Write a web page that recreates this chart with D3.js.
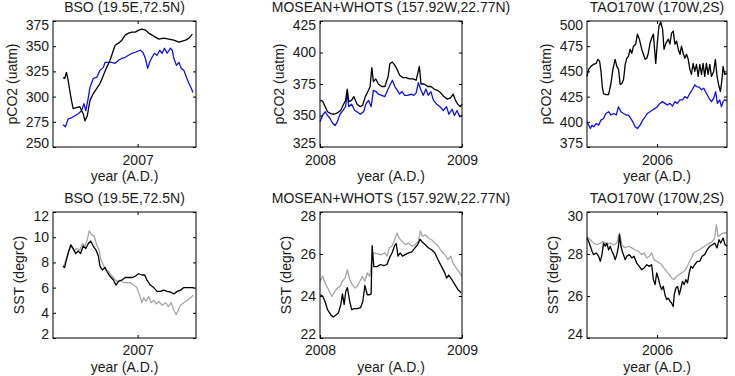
<!DOCTYPE html>
<html>
<head>
<meta charset="utf-8">
<script src="https://cdn.jsdelivr.net/npm/d3@7"></script>
<style>
  body { margin: 0; background: #fff; }
  svg { display: block; font-family: "Liberation Sans", Arial, sans-serif; }
</style>
</head>
<body>
<div id="chart"></div>
<script>
// ---- BSO (19.5E,72.5N) ----
const bsoPco2BlackT = [2006.489,2006.500,2006.512,2006.524,2006.535,2006.547,2006.558,2006.581,2006.604,2006.616,2006.627,2006.639,2006.655,2006.673,2006.696,2006.719,2006.742,2006.765,2006.788,2006.811,2006.834,2006.846,2006.869,2006.892,2006.915,2006.938,2006.961,2006.984,2007.007,2007.030,2007.053,2007.076,2007.099,2007.122,2007.145,2007.179,2007.214,2007.248,2007.283,2007.306,2007.329,2007.352,2007.375];
const bsoPco2Black = [319,318,324,316,306,296,288,289,290,286,283,276,281,296,303,308,313,321,329,336,346,351,353,356,361,363,364,364,366,367,366,363,361,359,357,358,357,356,354,355,356,358,362];
const bsoPco2BlueT = [2006.489,2006.505,2006.524,2006.547,2006.570,2006.593,2006.616,2006.632,2006.645,2006.662,2006.673,2006.696,2006.719,2006.742,2006.765,2006.777,2006.800,2006.823,2006.846,2006.869,2006.892,2006.915,2006.938,2006.961,2006.984,2007.018,2007.036,2007.053,2007.069,2007.082,2007.099,2007.115,2007.133,2007.151,2007.168,2007.184,2007.202,2007.225,2007.237,2007.248,2007.266,2007.283,2007.299,2007.317,2007.335,2007.352,2007.368,2007.379];
const bsoPco2Blue = [272,270,278,279,281,283,286,293,286,299,309,318,319,326,329,334,334,334,333,336,338,339,341,343,344,346,344,338,328,334,339,343,341,346,343,348,343,348,346,338,331,334,328,326,319,313,308,304];
const bsoSstBlackT = [2006.489,2006.500,2006.512,2006.528,2006.542,2006.558,2006.576,2006.593,2006.609,2006.627,2006.645,2006.662,2006.678,2006.696,2006.714,2006.731,2006.742,2006.758,2006.777,2006.793,2006.811,2006.834,2006.852,2006.869,2006.892,2006.915,2006.938,2006.961,2006.984,2007.007,2007.030,2007.048,2007.064,2007.087,2007.110,2007.133,2007.156,2007.179,2007.202,2007.225,2007.248,2007.271,2007.294,2007.317,2007.340,2007.363,2007.386];
const bsoSstBlack = [7.7,7.6,8.2,8.9,9.4,9.1,8.7,8.9,8.7,9.3,9.1,9.5,9.7,9.3,9.0,8.5,7.7,7.4,7.6,7.2,6.9,6.6,6.2,6.5,6.6,6.8,6.8,6.8,6.9,7.1,7.0,7.0,6.6,6.2,6.0,5.7,5.7,5.8,5.7,5.65,5.5,5.7,5.8,6.0,6.0,6.0,6.0];
const bsoSstGrayT = [2006.489,2006.512,2006.528,2006.547,2006.563,2006.581,2006.604,2006.622,2006.639,2006.655,2006.668,2006.685,2006.701,2006.719,2006.735,2006.749,2006.765,2006.783,2006.800,2006.818,2006.834,2006.857,2006.880,2006.903,2006.926,2006.949,2006.972,2006.995,2007.013,2007.030,2007.041,2007.057,2007.076,2007.092,2007.110,2007.128,2007.145,2007.168,2007.191,2007.209,2007.230,2007.248,2007.264,2007.278,2007.294,2007.317,2007.340,2007.363,2007.381];
const bsoSstGray = [7.6,8.3,8.9,9.3,8.9,9.1,9.0,9.5,9.3,9.8,10.5,10.2,10.1,9.4,9.0,8.2,7.8,7.4,7.3,7.0,6.8,6.5,6.6,6.4,6.4,6.4,6.2,6.0,5.4,4.8,5.2,4.9,5.3,4.8,5.0,4.7,4.9,4.6,4.8,4.5,4.8,4.2,3.85,4.2,4.6,4.8,5.0,5.2,5.4];
const bsoYearTicks = [2007];
const bsoPco2Ticks = [250,275,300,325,350,375];
const bsoSstTicks = [2,4,6,8,10,12];

// ---- MOSEAN+WHOTS (157.92W,22.77N) ----
const whotsPco2BlackT = [2008.000,2008.018,2008.037,2008.053,2008.076,2008.099,2008.122,2008.145,2008.162,2008.180,2008.192,2008.203,2008.222,2008.238,2008.261,2008.284,2008.300,2008.319,2008.342,2008.353,2008.365,2008.376,2008.393,2008.411,2008.434,2008.457,2008.480,2008.492,2008.508,2008.527,2008.545,2008.561,2008.584,2008.607,2008.630,2008.654,2008.677,2008.700,2008.711,2008.734,2008.758,2008.781,2008.804,2008.827,2008.850,2008.873,2008.896,2008.919,2008.938,2008.954,2008.970,2008.988,2009.000];
const whotsPco2Black = [362,361.5,357,353,351.5,351,352,354,358,362,371,361,362,365,359,357,358,365,370,373,388,377,379,375,373,373,381,391,392.5,390,386,382,380,380,379,379,378,389,375,375,373,373,371,370,368,365,363,364,367,362,359,357,359];
const whotsPco2BlueT = [2008.000,2008.018,2008.037,2008.053,2008.069,2008.088,2008.106,2008.122,2008.141,2008.162,2008.180,2008.192,2008.203,2008.222,2008.245,2008.261,2008.284,2008.307,2008.323,2008.342,2008.360,2008.376,2008.393,2008.411,2008.434,2008.457,2008.476,2008.492,2008.510,2008.527,2008.545,2008.561,2008.577,2008.596,2008.619,2008.642,2008.661,2008.677,2008.693,2008.711,2008.727,2008.746,2008.762,2008.781,2008.799,2008.822,2008.845,2008.868,2008.891,2008.908,2008.931,2008.947,2008.965,2008.984,2009.000];
const whotsPco2Blue = [345,350,353,350,348,344,342,345,351,354,357,367,357,359,354,353,351,353,359,362,357,370,369,367,366,365,370,374,378,373,370,367,369,366,366,367,366,368,376,370,366,371,366,369,362,359,357,354,357,351,355,350,354,349,350];
const whotsSstBlackT = [2008.000,2008.019,2008.037,2008.053,2008.077,2008.093,2008.112,2008.130,2008.147,2008.158,2008.170,2008.181,2008.193,2008.209,2008.223,2008.240,2008.263,2008.286,2008.302,2008.316,2008.333,2008.349,2008.360,2008.367,2008.379,2008.402,2008.426,2008.449,2008.472,2008.488,2008.507,2008.526,2008.537,2008.549,2008.565,2008.581,2008.600,2008.623,2008.647,2008.670,2008.688,2008.705,2008.716,2008.740,2008.763,2008.786,2008.809,2008.833,2008.856,2008.879,2008.891,2008.907,2008.926,2008.949,2008.972,2008.995];
const whotsSstBlack = [24.06,24.0,23.7,23.35,23.1,23.0,23.1,23.2,23.6,24.1,23.6,24.2,24.4,23.75,23.35,23.4,23.4,23.45,23.75,24.5,24.06,24.06,24.1,26.4,25.4,25.4,25.5,25.45,25.5,25.8,26.05,26.4,26.5,25.9,26.05,25.9,25.97,26.05,26.1,26.3,26.45,26.7,26.6,26.45,26.3,26.2,26.05,25.7,25.4,25.1,24.85,25.0,24.8,24.55,24.3,24.15];
const whotsSstGrayT = [2008.000,2008.019,2008.037,2008.060,2008.084,2008.102,2008.123,2008.142,2008.158,2008.177,2008.193,2008.209,2008.228,2008.247,2008.263,2008.281,2008.298,2008.316,2008.333,2008.351,2008.367,2008.386,2008.409,2008.433,2008.456,2008.472,2008.488,2008.507,2008.530,2008.542,2008.558,2008.577,2008.600,2008.623,2008.647,2008.670,2008.693,2008.707,2008.721,2008.740,2008.763,2008.786,2008.809,2008.833,2008.856,2008.879,2008.902,2008.921,2008.937,2008.960,2008.984,2009.000];
const whotsSstGray = [24.7,24.95,24.6,24.3,23.98,24.2,24.38,24.46,24.7,24.86,25.25,24.78,24.54,24.38,24.46,24.7,24.94,24.7,25.1,24.94,25.97,26.05,26.0,25.97,26.05,25.9,26.3,26.37,26.76,27.0,26.76,26.6,26.45,26.52,26.37,26.45,26.6,27.1,26.84,26.92,26.76,26.68,26.52,26.37,26.13,25.97,25.73,25.9,25.57,25.33,25.1,24.94];
const whotsYearTicks = [2008, 2009];
const whotsPco2Ticks = [325,350,375,400,425];
const whotsSstTicks = [22,24,26,28];

// ---- TAO170W (170W,2S) ----
const taoPco2BlackT = [2005.500,2005.512,2005.528,2005.547,2005.566,2005.578,2005.590,2005.600,2005.609,2005.618,2005.635,2005.654,2005.671,2005.685,2005.701,2005.713,2005.725,2005.737,2005.749,2005.761,2005.773,2005.784,2005.796,2005.808,2005.820,2005.832,2005.848,2005.860,2005.874,2005.891,2005.903,2005.915,2005.927,2005.938,2005.950,2005.962,2005.974,2005.981,2005.991,2006.002,2006.014,2006.026,2006.040,2006.050,2006.064,2006.081,2006.092,2006.104,2006.116,2006.128,2006.140,2006.152,2006.164,2006.175,2006.187,2006.199,2006.211,2006.223,2006.235,2006.246,2006.258,2006.270,2006.282,2006.294,2006.306,2006.318,2006.329,2006.341,2006.353,2006.365,2006.377,2006.389,2006.405,2006.417,2006.429,2006.443,2006.453,2006.464,2006.472,2006.483,2006.500];
const taoPco2Black = [445,452,455,457,458,462,460,450,435,428,427,427,438,452,462,455,452,437,438,442,457,463,465,472,468,475,477,487,482,472,467,462,463,468,478,483,487,475,458,478,495,499,492,472,478,482,477,488,490,477,480,472,467,475,468,463,467,462,452,447,458,450,457,445,457,447,458,445,458,447,457,445,450,462,445,435,430,442,455,447,448];
const taoPco2BlueT = [2005.500,2005.512,2005.524,2005.536,2005.547,2005.566,2005.583,2005.600,2005.618,2005.635,2005.654,2005.671,2005.690,2005.709,2005.725,2005.742,2005.761,2005.780,2005.796,2005.813,2005.827,2005.844,2005.860,2005.879,2005.898,2005.915,2005.931,2005.950,2005.969,2005.986,2006.002,2006.021,2006.040,2006.057,2006.073,2006.092,2006.111,2006.128,2006.145,2006.164,2006.182,2006.199,2006.216,2006.235,2006.254,2006.270,2006.282,2006.301,2006.318,2006.334,2006.353,2006.372,2006.389,2006.405,2006.419,2006.431,2006.448,2006.460,2006.472,2006.483,2006.500];
const taoPco2Blue = [400,396.7,393.3,396.7,395,398.3,396.7,401.7,403.3,408.3,410,406.7,408.3,406.7,415,410,408.3,406.7,406.7,403.3,400,395,393.3,396.7,401.7,405,408.3,410,411.7,413.3,415,418.3,420,418.3,416.7,418.3,415.7,420,418.3,421.7,421.7,425,423.3,428.3,432.3,436.7,435,434.3,431.7,433.3,428.3,423.3,420,423.3,430,418.3,421.7,415,420,421.7,421];
const taoSstBlackT = [2005.500,2005.512,2005.524,2005.536,2005.547,2005.566,2005.583,2005.595,2005.607,2005.618,2005.630,2005.642,2005.654,2005.666,2005.678,2005.690,2005.701,2005.713,2005.725,2005.732,2005.742,2005.756,2005.773,2005.784,2005.803,2005.820,2005.836,2005.855,2005.874,2005.891,2005.908,2005.927,2005.945,2005.962,2005.974,2005.986,2005.998,2006.009,2006.021,2006.033,2006.045,2006.057,2006.069,2006.081,2006.092,2006.104,2006.116,2006.123,2006.135,2006.147,2006.159,2006.171,2006.182,2006.194,2006.206,2006.218,2006.230,2006.242,2006.254,2006.270,2006.287,2006.306,2006.322,2006.341,2006.358,2006.377,2006.396,2006.412,2006.429,2006.443,2006.455,2006.472,2006.486,2006.500];
const taoSstBlack = [28.76,28.6,28.37,28.13,27.97,28.05,27.89,27.65,27.97,28.52,28.37,28.52,28.2,28.37,28.13,27.97,27.73,27.97,28.37,28.92,28.37,28.05,27.73,27.89,27.97,27.81,27.89,27.57,27.41,27.25,27.33,27.49,27.41,27.49,26.78,26.54,27.1,26.86,26.54,26.3,26.46,26.06,25.83,25.9,25.75,25.67,25.5,26.06,26.38,26.46,26.06,26.38,26.7,26.54,26.78,26.62,27.1,27.41,27.33,27.49,27.65,27.65,27.89,27.97,28.2,28.37,28.44,28.52,28.29,28.68,28.52,28.76,28.44,28.37];
const taoSstGrayT = [2005.500,2005.524,2005.547,2005.571,2005.595,2005.618,2005.642,2005.666,2005.690,2005.713,2005.732,2005.749,2005.773,2005.796,2005.820,2005.844,2005.867,2005.891,2005.908,2005.927,2005.945,2005.962,2005.979,2005.998,2006.017,2006.033,2006.050,2006.069,2006.088,2006.104,2006.121,2006.140,2006.159,2006.175,2006.192,2006.211,2006.227,2006.246,2006.263,2006.282,2006.301,2006.320,2006.339,2006.358,2006.377,2006.396,2006.412,2006.424,2006.436,2006.453,2006.472,2006.500];
const taoSstGray = [28.84,28.68,28.52,28.44,28.52,28.6,28.44,28.52,28.44,28.52,29.0,28.44,28.29,28.37,28.29,28.2,28.13,27.97,28.05,27.81,27.89,28.05,27.73,27.65,27.57,27.49,27.33,27.17,27.02,26.86,26.78,26.94,27.02,27.1,27.17,27.33,27.57,27.81,28.05,28.13,28.2,28.29,28.37,28.44,28.52,28.6,28.76,29.4,28.84,28.92,29.0,29.0];
const taoYearTicks = [2006];
const taoPco2Ticks = [375,400,425,450,475,500];
const taoSstTicks = [24,26,28,30];

const BLUE = "#1010f0", BLACK = "#000000", GRAY = "#a6a6a6";
const FONT = 14;

// panel layout (pixel boxes) + which arrays go where
const cols = [[53, 196], [320, 462], [587, 727]];
const rows = [[21, 147], [212, 338]];

const panels = [
  { col: 0, row: 0, title: "BSO (19.5E,72.5N)", ylabel: "pCO2 (uatm)", xDomain: [2006.42, 2007.40], xTicks: bsoYearTicks,
    yDomain: [250, 375], yTicks: bsoPco2Ticks,
    series: [{ t: bsoPco2BlueT, v: bsoPco2Blue, c: BLUE }, { t: bsoPco2BlackT, v: bsoPco2Black, c: BLACK }] },
  { col: 1, row: 0, title: "MOSEAN+WHOTS (157.92W,22.77N)", ylabel: "pCO2 (uatm)", xDomain: [2008, 2009], xTicks: whotsYearTicks,
    yDomain: [325, 425], yTicks: whotsPco2Ticks,
    series: [{ t: whotsPco2BlueT, v: whotsPco2Blue, c: BLUE }, { t: whotsPco2BlackT, v: whotsPco2Black, c: BLACK }] },
  { col: 2, row: 0, title: "TAO170W (170W,2S)", ylabel: "pCO2 (uatm)", xDomain: [2005.5, 2006.5], xTicks: taoYearTicks,
    yDomain: [375, 500], yTicks: taoPco2Ticks,
    series: [{ t: taoPco2BlueT, v: taoPco2Blue, c: BLUE }, { t: taoPco2BlackT, v: taoPco2Black, c: BLACK }] },
  { col: 0, row: 1, title: "BSO (19.5E,72.5N)", ylabel: "SST (degrC)", xDomain: [2006.42, 2007.40], xTicks: bsoYearTicks,
    yDomain: [2, 12], yTicks: bsoSstTicks,
    series: [{ t: bsoSstGrayT, v: bsoSstGray, c: GRAY }, { t: bsoSstBlackT, v: bsoSstBlack, c: BLACK }] },
  { col: 1, row: 1, title: "MOSEAN+WHOTS (157.92W,22.77N)", ylabel: "SST (degrC)", xDomain: [2008, 2009], xTicks: whotsYearTicks,
    yDomain: [22, 28], yTicks: whotsSstTicks,
    series: [{ t: whotsSstGrayT, v: whotsSstGray, c: GRAY }, { t: whotsSstBlackT, v: whotsSstBlack, c: BLACK }] },
  { col: 2, row: 1, title: "TAO170W (170W,2S)", ylabel: "SST (degrC)", xDomain: [2005.5, 2006.5], xTicks: taoYearTicks,
    yDomain: [24, 30], yTicks: taoSstTicks,
    series: [{ t: taoSstGrayT, v: taoSstGray, c: GRAY }, { t: taoSstBlackT, v: taoSstBlack, c: BLACK }] }
];

const svg = d3.select("#chart").append("svg")
  .attr("width", 735).attr("height", 376)
  .style("background", "#fff");

panels.forEach(p => {
  const [x0, x1] = cols[p.col];
  const [y0, y1] = rows[p.row];
  const w = x1 - x0, h = y1 - y0;

  const x = d3.scaleLinear().domain(p.xDomain).range([0, w]);
  const y = d3.scaleLinear().domain(p.yDomain).range([h, 0]);

  const g = svg.append("g").attr("transform", `translate(${x0},${y0})`);

  // data lines
  const line = d3.line().x(d => x(d[0])).y(d => y(d[1]));
  p.series.forEach(s => {
    g.append("path")
      .datum(s.t.map((t, i) => [t, s.v[i]]))
      .attr("fill", "none")
      .attr("stroke", s.c)
      .attr("stroke-width", 1.3)
      .attr("stroke-linejoin", "round")
      .attr("d", line);
  });

  // axes: ticks pointing inward on all four sides
  const styleAxis = sel => {
    sel.select(".domain").remove();
    sel.selectAll(".tick line").attr("stroke", "#000");
    sel.selectAll("text").attr("fill", "#1a1a1a")
      .style("font-family", '"Liberation Sans", Arial, sans-serif')
      .style("font-size", FONT + "px");
  };

  const left = g.append("g")
    .call(d3.axisLeft(y).tickValues(p.yTicks).tickSize(-3).tickPadding(4).tickFormat(d3.format("d")))
    .call(styleAxis);
  // end labels sit slightly inside the box, like the original
  left.selectAll(".tick text")
    .attr("dy", d => d === p.yDomain[1] ? "0.6em" : d === p.yDomain[0] ? "0.04em" : "0.32em");

  g.append("g").attr("transform", `translate(${w},0)`)
    .call(d3.axisRight(y).tickValues(p.yTicks).tickSize(-3).tickFormat(""))
    .call(styleAxis);

  g.append("g").attr("transform", `translate(0,${h})`)
    .call(d3.axisBottom(x).tickValues(p.xTicks).tickSize(-3).tickPadding(p.row === 0 ? 8.5 : 7.5).tickFormat(d3.format("d")))
    .call(styleAxis);

  g.append("g")
    .call(d3.axisTop(x).tickValues(p.xTicks).tickSize(-3).tickFormat(""))
    .call(styleAxis);

  // box
  g.append("rect")
    .attr("width", w).attr("height", h)
    .attr("fill", "none").attr("stroke", "#000").attr("stroke-width", 1);

  // title
  g.append("text")
    .attr("x", w / 2).attr("y", -9.5)
    .attr("text-anchor", "middle")
    .attr("fill", "#1a1a1a")
    .style("font-size", FONT + "px")
    .text(p.title);

  // x label
  g.append("text")
    .attr("x", w / 2).attr("y", h + 29).attr("dy", "0.35em")
    .attr("text-anchor", "middle")
    .attr("fill", "#1a1a1a")
    .style("font-size", FONT + "px")
    .text("year (A.D.)");

  // y label
  const yl = p.row === 0 ? 41 : 34;
  g.append("text")
    .attr("transform", `translate(${-yl},${h / 2}) rotate(-90)`)
    .attr("text-anchor", "middle")
    .attr("dy", "0.35em")
    .attr("fill", "#1a1a1a")
    .style("font-size", FONT + "px")
    .text(p.ylabel);
});
</script>
</body>
</html>
